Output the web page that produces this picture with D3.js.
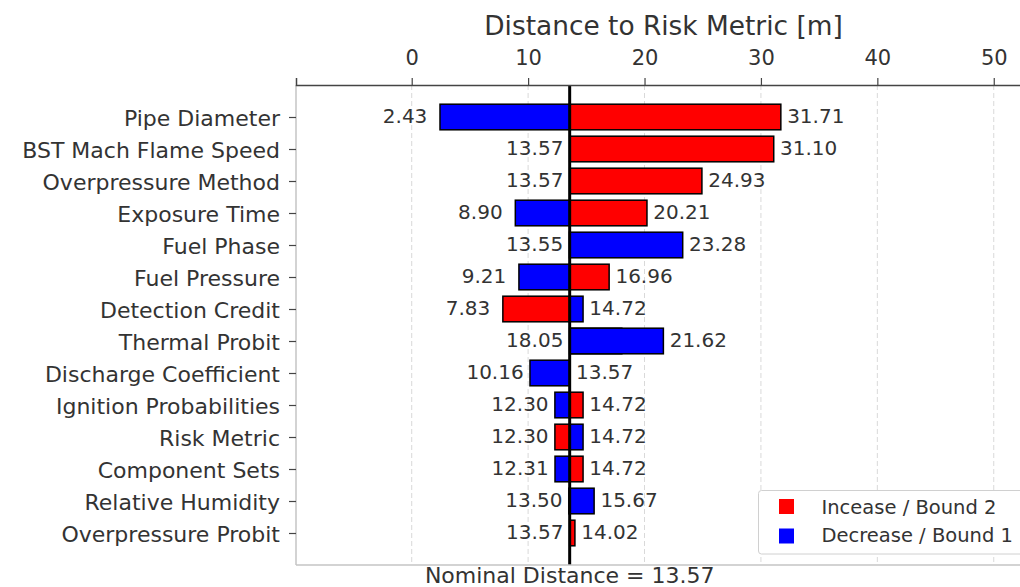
<!DOCTYPE html>
<html>
<head>
<meta charset="utf-8">
<script src="https://cdn.jsdelivr.net/npm/d3@7"></script>
<style>
  html, body { margin: 0; padding: 0; background: #fff; }
  svg { display: block; }
  text { font-family: "DejaVu Sans", sans-serif; fill: #333; }
</style>
</head>
<body>
<svg id="chart" width="1020" height="587"></svg>
<script>
// Tornado chart: distance to risk metric when each input is moved to its bounds
const parameters = [
  "Pipe Diameter", "BST Mach Flame Speed", "Overpressure Method", "Exposure Time",
  "Fuel Phase", "Fuel Pressure", "Detection Credit", "Thermal Probit",
  "Discharge Coefficient", "Ignition Probabilities", "Risk Metric", "Component Sets",
  "Relative Humidity", "Overpressure Probit"
];
const bound1 = [2.43, 13.57, 13.57, 8.90, 23.28, 9.21, 14.72, 21.62, 10.16, 12.30, 14.72, 12.31, 15.67, 13.57];
const bound2 = [31.71, 31.10, 24.93, 20.21, 13.55, 16.96, 7.83, 18.05, 13.57, 14.72, 12.30, 14.72, 13.50, 14.02];
const nominal = 13.57;
const xTicks = [0, 10, 20, 30, 40, 50];
const legendLabels = ["Incease / Bound 2", "Decrease / Bound 1"];

const colorBound1 = "#0000ff";
const colorBound2 = "#ff0000";

const plotLeft = 296, plotRight = 1031, plotTop = 85, plotBottom = 565;
const svg = d3.select("#chart");

const x = d3.scaleLinear().domain([-9.94, 53.2]).range([plotLeft, plotRight]);
const y = d3.scalePoint().domain(parameters).range([plotTop, plotBottom]).padding(1);
const barH = y.step() * 0.8;

const rows = parameters.map((p, i) => ({ name: p, b1: bound1[i], b2: bound2[i] }));

// vertical dashed grid
svg.append("g").selectAll("line").data(xTicks).join("line")
  .attr("x1", d => x(d)).attr("x2", d => x(d))
  .attr("y1", plotTop).attr("y2", plotBottom)
  .attr("stroke", "#d9d9d9").attr("stroke-width", 1)
  .attr("stroke-dasharray", "5,3");

// bars: bound 2 first, bound 1 on top
function barGroup(key, color) {
  svg.append("g").selectAll("rect").data(rows).join("rect")
    .attr("x", d => x(Math.min(d[key], nominal)))
    .attr("width", d => Math.abs(x(d[key]) - x(nominal)))
    .attr("y", d => y(d.name) - barH / 2)
    .attr("height", barH)
    .attr("fill", color)
    .attr("stroke", "#000").attr("stroke-width", 1.5);
}
barGroup("b2", colorBound2);
barGroup("b1", colorBound1);

// nominal distance line
svg.append("line")
  .attr("x1", x(nominal)).attr("x2", x(nominal))
  .attr("y1", plotTop).attr("y2", plotBottom)
  .attr("stroke", "#000").attr("stroke-width", 3);

// value labels, centred 3 m beyond the bar ends
const lab = svg.append("g").style("font-size", "20px").attr("text-anchor", "middle");
lab.selectAll("text.lo").data(rows).join("text").attr("class", "lo")
  .attr("x", d => x(Math.min(d.b1, d.b2, nominal) - 3))
  .attr("y", d => y(d.name) + 6.3)
  .text(d => Math.min(d.b1, d.b2).toFixed(2));
lab.selectAll("text.hi").data(rows).join("text").attr("class", "hi")
  .attr("x", d => x(Math.max(d.b1, d.b2, nominal) + 3))
  .attr("y", d => y(d.name) + 6.3)
  .text(d => Math.max(d.b1, d.b2).toFixed(2));

// spines
svg.append("line").attr("x1", plotLeft).attr("x2", plotLeft).attr("y1", plotTop).attr("y2", plotBottom)
  .attr("stroke", "#c4c4c4").attr("stroke-width", 1.5);
svg.append("line").attr("x1", plotLeft).attr("x2", plotRight).attr("y1", plotBottom).attr("y2", plotBottom)
  .attr("stroke", "#c4c4c4").attr("stroke-width", 1.5);

// top x axis
const xAxis = svg.append("g").attr("transform", `translate(0,${plotTop})`)
  .call(d3.axisTop(x).tickValues(xTicks).tickFormat(d3.format("d")).tickSize(7).tickPadding(13));
xAxis.select(".domain").attr("stroke", "#444").attr("stroke-width", 1.5);
xAxis.selectAll(".tick line").attr("stroke", "#444").attr("stroke-width", 1.2);
xAxis.selectAll("text").attr("font-size", 21).attr("font-family", "DejaVu Sans").attr("fill", "#333");

// left y axis
const yAxis = svg.append("g").attr("transform", `translate(${plotLeft},0)`)
  .call(d3.axisLeft(y).tickSize(7).tickPadding(9));
yAxis.select(".domain").remove();
yAxis.selectAll(".tick line").attr("stroke", "#444").attr("stroke-width", 1.2);
yAxis.selectAll("text").attr("font-size", 22).attr("font-family", "DejaVu Sans")
  .attr("fill", "#333").attr("dy", "0.4em");

// axis title and nominal annotation
svg.append("text").attr("x", (plotLeft + plotRight) / 2).attr("y", 35)
  .attr("text-anchor", "middle").style("font-size", "26.4px")
  .text("Distance to Risk Metric [m]");
svg.append("text").attr("x", x(nominal)).attr("y", 583)
  .attr("text-anchor", "middle").style("font-size", "22px")
  .text("Nominal Distance = " + nominal.toFixed(2));

// legend
const lg = svg.append("g");
lg.append("rect").attr("x", 758.5).attr("y", 490.5).attr("width", 266).attr("height", 63.5)
  .attr("rx", 3).attr("fill", "#fff").attr("stroke", "#d0d0d0").attr("stroke-width", 1);
[colorBound2, colorBound1].forEach((c, i) => {
  lg.append("rect").attr("x", 779).attr("y", 499 + i * 29.5).attr("width", 15).attr("height", 15)
    .attr("fill", c);
  lg.append("text").attr("x", 821.5).attr("y", 513.5 + i * 28).style("font-size", "19.5px")
    .text(legendLabels[i]);
});
</script>
</body>
</html>
